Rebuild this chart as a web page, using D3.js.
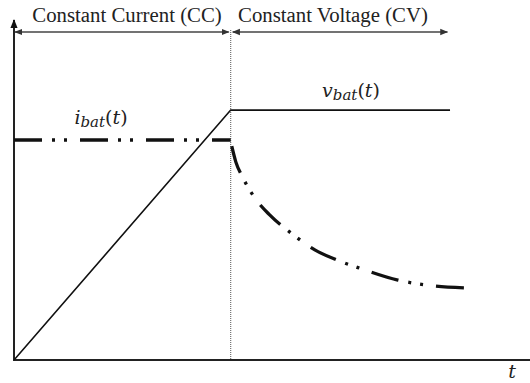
<!DOCTYPE html>
<html lang="en">
<head>
<meta charset="UTF-8">
<title>CC-CV charging</title>
<style>
    body { margin: 0; background: #fff; }
    text { font-family: "Liberation Serif", "Times New Roman", serif; }
    .math { font-family: "DejaVu Serif", serif; }
</style>
</head>
<body>
<div id="chart"></div>
<script src="https://d3js.org/d3.v7.min.js"></script>
<script>
    // time axis is in arbitrary units, switch from CC to CV at tSwitch
    const tSwitch = 4.2;
    const tEnd = 10;

    const phases = ["Constant Current (CC)", "Constant Voltage (CV)"];
    const phaseRanges = [[0, tSwitch], [tSwitch, 8.4]];

    // battery voltage: linear rise then flat
    const vbatT = [0, tSwitch, 8.45];
    const vbatV = [0, 0.735, 0.735];

    // battery current: flat during CC then decaying during CV
    const ibatFlatT = [0, tSwitch];
    const ibatFlatV = [0.647, 0.647];
    const ibatDecayT = [4.22, 4.30, 4.42, 4.67, 4.96, 5.39, 5.83, 6.26, 6.74, 7.44, 7.97, 8.74];
    const ibatDecayV = [0.629, 0.582, 0.541, 0.476, 0.426, 0.371, 0.324, 0.294, 0.268, 0.235, 0.221, 0.212];

    const W = 530, H = 383;
    const svg = d3.select("#chart").append("svg")
        .attr("width", W)
        .attr("height", H);

    const x = d3.scaleLinear().domain([0, tEnd]).range([14, 530]);
    const y = d3.scaleLinear().domain([0, 1]).range([360, 20]);

    const defs = svg.append("defs");
    function marker(id, color, size) {
        defs.append("marker")
            .attr("id", id)
            .attr("viewBox", "0 0 10 10")
            .attr("refX", 9).attr("refY", 5)
            .attr("markerWidth", size).attr("markerHeight", size)
            .attr("markerUnits", "userSpaceOnUse")
            .attr("orient", "auto-start-reverse")
            .append("path")
            .attr("d", "M0,1 L10,5 L0,9 Z")
            .attr("fill", color);
    }
    marker("arrowAxis", "#111", 9);
    marker("arrowTop", "#333", 8);

    // axes
    svg.append("line")
        .attr("x1", x(0)).attr("y1", y(0) + 1)
        .attr("x2", x(0)).attr("y2", y(1))
        .attr("stroke", "#222").attr("stroke-width", 2)
        .attr("marker-end", "url(#arrowAxis)");
    svg.append("line")
        .attr("x1", x(0) - 1).attr("y1", y(0))
        .attr("x2", W).attr("y2", y(0))
        .attr("stroke", "#222").attr("stroke-width", 2);

    // dotted switch line
    svg.append("line")
        .attr("x1", x(tSwitch)).attr("y1", 30)
        .attr("x2", x(tSwitch)).attr("y2", y(0))
        .attr("stroke", "#555").attr("stroke-width", 1)
        .attr("stroke-dasharray", "1,1");

    // phase arrows and titles
    const arrowY = 32;
    const titleX = [127, 333];
    phases.forEach((name, i) => {
        const [a, b] = phaseRanges[i];
        const xa = x(a) + (i === 0 ? 1 : 2);
        const xb = x(b) - (i === 0 ? 2 : 0);
        svg.append("line")
            .attr("x1", xa).attr("y1", arrowY)
            .attr("x2", xb).attr("y2", arrowY)
            .attr("stroke", "#444").attr("stroke-width", 1.3)
            .attr("marker-start", "url(#arrowTop)")
            .attr("marker-end", "url(#arrowTop)");
        svg.append("text")
            .attr("x", titleX[i])
            .attr("y", 22)
            .attr("text-anchor", "middle")
            .attr("font-size", 20.8)
            .attr("fill", "#222")
            .text(name);
    });

    const line = d3.line().x(d => x(d[0])).y(d => y(d[1]));
    const curve = d3.line().x(d => x(d[0])).y(d => y(d[1])).curve(d3.curveMonotoneX);

    // v_bat
    svg.append("path")
        .attr("d", line(d3.zip(vbatT, vbatV)))
        .attr("fill", "none")
        .attr("stroke", "#111")
        .attr("stroke-width", 1.6);

    // i_bat
    const dash = "28,10,3,9,3,13";
    svg.append("path")
        .attr("d", line(d3.zip(ibatFlatT, ibatFlatV)))
        .attr("fill", "none")
        .attr("stroke", "#111")
        .attr("stroke-width", 3.3)
        .attr("stroke-dasharray", dash);
    svg.append("path")
        .attr("d", curve(d3.zip(ibatDecayT, ibatDecayV)))
        .attr("fill", "none")
        .attr("stroke", "#111")
        .attr("stroke-width", 3.3)
        .attr("stroke-dasharray", dash);

    // math labels
    function mathLabel(cx, by, main, sub) {
        const t = svg.append("text")
            .attr("class", "math")
            .attr("x", cx).attr("y", by)
            .attr("text-anchor", "middle")
            .attr("font-size", 19)
            .attr("font-style", "italic")
            .attr("fill", "#222");
        t.append("tspan").text(main);
        t.append("tspan").attr("font-size", 15).attr("dy", 3).text(sub);
        t.append("tspan").attr("dy", -3).attr("font-style", "normal").text("(");
        t.append("tspan").text("t");
        t.append("tspan").attr("font-style", "normal").text(")");
    }
    mathLabel(101, 124, "i", "bat");
    mathLabel(351, 97, "v", "bat");

    svg.append("text")
        .attr("class", "math")
        .attr("x", 512).attr("y", 378)
        .attr("text-anchor", "middle")
        .attr("font-size", 19)
        .attr("font-style", "italic")
        .attr("fill", "#222")
        .text("t");
</script>
</body>
</html>
